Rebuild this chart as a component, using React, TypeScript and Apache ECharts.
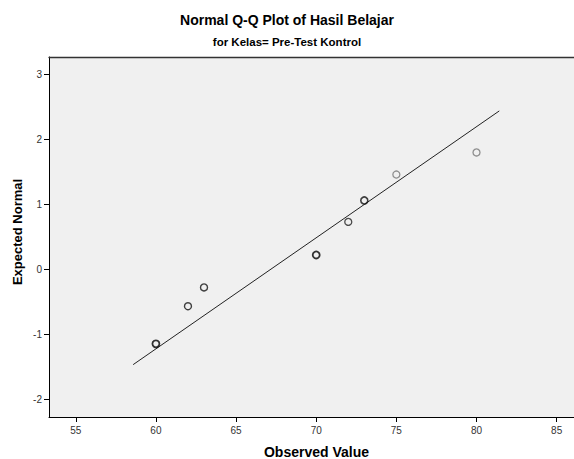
import React, { useEffect, useRef } from "react";
import * as echarts from "echarts";

const observedValues = [60, 62, 63, 70, 72, 73, 75, 80];
const expectedNormal = [-1.15, -0.57, -0.28, 0.22, 0.73, 1.06, 1.46, 1.8];
const pointTone = ["#000", "#111", "#111", "#000", "#222", "#111", "#777", "#777"];
const pointWidth = [1.8, 1.4, 1.4, 1.8, 1.3, 1.6, 1.3, 1.3];
const refLineX = [58.58, 81.42];
const refLineY = [-1.47, 2.44];
const xTicks = [55, 60, 65, 70, 75, 80, 85];
const yTicks = [-2, -1, 0, 1, 2, 3];

const FONT = "'Liberation Sans', Arial, sans-serif";
const X_MIN = 53.33;
const X_MAX = 87.33;

export default function App() {
  const ref = useRef<HTMLDivElement>(null);
  useEffect(() => {
    if (!ref.current) return;
    const chart = echarts.init(ref.current, undefined, { renderer: "svg" });
    chart.setOption({
      animation: false,
      backgroundColor: "#ffffff",
      textStyle: { fontFamily: FONT },
      grid: {
        left: 49,
        top: 57,
        right: -20,
        bottom: 42,
        outerBoundsMode: "none",
        containLabel: false,
        show: true,
        backgroundColor: "#F0F0F0",
        borderColor: "transparent",
        borderWidth: 0,
      },
      xAxis: [
        {
          type: "value",
          min: X_MIN,
          max: X_MAX,
          axisLine: { show: true, onZero: false, lineStyle: { color: "#000", width: 1 } },
          axisTick: { show: true, customValues: xTicks, length: 5, lineStyle: { color: "#000" } },
          axisLabel: { customValues: xTicks, fontSize: 10, color: "#333", margin: 8, fontFamily: FONT },
          splitLine: { show: false },
        },
        {
          type: "value",
          position: "top",
          min: X_MIN,
          max: X_MAX,
          axisLine: { show: true, onZero: false, lineStyle: { color: "#333", width: 1.3 } },
          axisTick: { show: false },
          axisLabel: { show: false },
          splitLine: { show: false },
        },
      ],
      yAxis: {
        type: "value",
        min: -2.277,
        max: 3.271,
        axisLine: { show: true, onZero: false, lineStyle: { color: "#000", width: 1 } },
        axisTick: { show: true, customValues: yTicks, length: 5, lineStyle: { color: "#000" } },
        axisLabel: { customValues: yTicks, fontSize: 10, color: "#333", margin: 7, fontFamily: FONT },
        splitLine: { show: false },
      },
      graphic: [
        {
          type: "text",
          x: 287,
          y: 20,
          style: {
            text: "Normal Q-Q Plot of Hasil Belajar",
            font: `bold 14px ${FONT}`,
            fill: "#000",
            align: "center",
            verticalAlign: "middle",
          },
        },
        {
          type: "text",
          x: 287,
          y: 42,
          style: {
            text: "for Kelas= Pre-Test Kontrol",
            font: `bold 11.5px ${FONT}`,
            fill: "#000",
            align: "center",
            verticalAlign: "middle",
          },
        },
        {
          type: "text",
          x: 316.5,
          y: 452,
          style: {
            text: "Observed Value",
            font: `bold 14px ${FONT}`,
            fill: "#000",
            align: "center",
            verticalAlign: "middle",
          },
        },
        {
          type: "text",
          x: 17.7,
          y: 232,
          rotation: Math.PI / 2,
          style: {
            text: "Expected Normal",
            font: `bold 13px ${FONT}`,
            fill: "#000",
            align: "center",
            verticalAlign: "middle",
          },
        },
      ],
      series: [
        {
          type: "line",
          xAxisIndex: 0,
          data: refLineX.map((x, i) => [x, refLineY[i]]),
          symbol: "none",
          lineStyle: { color: "#222", width: 1 },
          silent: true,
          z: 2,
        },
        {
          type: "scatter",
          xAxisIndex: 0,
          symbol: "circle",
          symbolSize: 7,
          data: observedValues.map((x, i) => ({
            value: [x, expectedNormal[i]],
            itemStyle: {
              color: "rgba(0,0,0,0)",
              borderColor: pointTone[i],
              borderWidth: pointWidth[i],
            },
          })),
          z: 3,
        },
      ],
    });
    return () => chart.dispose();
  }, []);
  return (
    <div
      ref={ref}
      style={{ position: "fixed", left: 0, top: 0, width: 574, height: 459 }}
    />
  );
}
